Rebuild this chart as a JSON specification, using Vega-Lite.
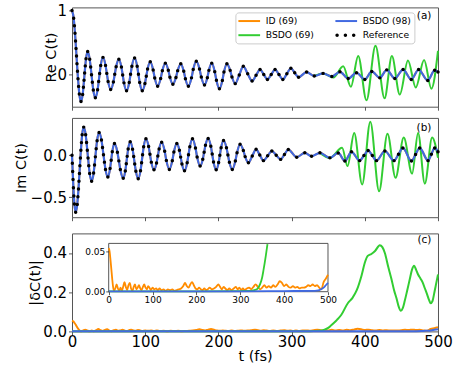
{
"$schema": "https://vega.github.io/schema/vega-lite/v6.json",
"padding": {"left": 12, "top": 2.4, "right": 5, "bottom": 5},
"config": {
 "font": "DejaVu Sans",
 "view": {"stroke": "#555", "strokeWidth": 1},
 "axis": {"grid": false, "domain": false, "labelFlush": false, "tickColor": "#333", "tickSize": 3.5, "tickWidth": 0.8, "labelFontSize": 15, "labelColor": "#000", "labelFont": "DejaVu Sans", "titleFont": "DejaVu Sans", "titleFontSize": 14.5, "titleFontWeight": "normal", "titleColor": "#000", "labelPadding": 2, "titlePadding": 4}
},
"datasets": {
 "re": [{"t":0,"v":1.0},{"t":2.29,"v":0.882},{"t":3.29,"v":0.763},{"t":4.10,"v":0.645},{"t":4.82,"v":0.527},{"t":5.49,"v":0.408},{"t":6.15,"v":0.29},{"t":6.81,"v":0.172},{"t":7.48,"v":0.053},{"t":8.20,"v":-0.065},{"t":9.01,"v":-0.183},{"t":10.01,"v":-0.302},{"t":12.3,"v":-0.42},
 {"t":14.55,"v":-0.309},{"t":15.57,"v":-0.197},{"t":16.43,"v":-0.086},{"t":17.27,"v":0.026},{"t":18.13,"v":0.137},{"t":19.15,"v":0.249},{"t":21.4,"v":0.36},
 {"t":24.21,"v":0.24},{"t":25.52,"v":0.12},{"t":26.65,"v":0.0},{"t":27.78,"v":-0.12},{"t":29.09,"v":-0.24},{"t":31.9,"v":-0.36},
 {"t":34.97,"v":-0.234},{"t":36.43,"v":-0.108},{"t":37.77,"v":0.018},{"t":39.23,"v":0.144},{"t":42.3,"v":0.27},
 {"t":45.8,"v":0.145},{"t":47.55,"v":0.02},{"t":49.3,"v":-0.105},{"t":52.8,"v":-0.23},
 {"t":56.53,"v":-0.113},{"t":58.4,"v":0.005},{"t":60.27,"v":0.123},{"t":64.0,"v":0.24},
 {"t":67.5,"v":0.118},{"t":69.25,"v":-0.005},{"t":71.0,"v":-0.128},{"t":74.5,"v":-0.25},
 {"t":78.17,"v":-0.123},{"t":80.0,"v":0.005},{"t":81.83,"v":0.133},{"t":85.5,"v":0.26},
 {"t":89.0,"v":0.133},{"t":90.75,"v":0.005},{"t":92.5,"v":-0.123},{"t":96.0,"v":-0.25},
 {"t":99.63,"v":-0.138},{"t":101.45,"v":-0.025},{"t":103.27,"v":0.088},{"t":106.9,"v":0.2},
 {"t":110.86,"v":0.073},{"t":113.04,"v":-0.053},{"t":117.0,"v":-0.18},
 {"t":121.12,"v":-0.06},{"t":123.38,"v":0.06},{"t":127.5,"v":0.18},
 {"t":131.54,"v":0.07},{"t":133.76,"v":-0.04},{"t":137.8,"v":-0.15},
 {"t":142.03,"v":-0.043},{"t":144.37,"v":0.063},{"t":148.6,"v":0.17},
 {"t":152.68,"v":0.053},{"t":154.92,"v":-0.063},{"t":159.0,"v":-0.18},
 {"t":163.23,"v":-0.05},{"t":165.57,"v":0.08},{"t":169.8,"v":0.21},
 {"t":174.19,"v":0.087},{"t":176.61,"v":-0.037},{"t":181.0,"v":-0.16},
 {"t":184.88,"v":-0.047},{"t":187.02,"v":0.067},{"t":190.9,"v":0.18},
 {"t":195.02,"v":0.047},{"t":197.28,"v":-0.087},{"t":201.4,"v":-0.22},
 {"t":205.4,"v":-0.09},{"t":207.6,"v":0.04},{"t":211.6,"v":0.17},
 {"t":216.07,"v":0.067},{"t":218.53,"v":-0.037},{"t":223.0,"v":-0.14},
 {"t":228.5,"v":-0.005},{"t":234.0,"v":0.13},
 {"t":240.0,"v":0.015},{"t":246.0,"v":-0.10},
 {"t":251.45,"v":-0.01},{"t":256.9,"v":0.08},
 {"t":261.95,"v":0.003},{"t":267.0,"v":-0.075},
 {"t":272.2,"v":0.003},{"t":277.4,"v":0.08},
 {"t":282.7,"v":0.003},{"t":288.0,"v":-0.075},
 {"t":293.5,"v":0.013},{"t":299.0,"v":0.10},
 {"t":304.25,"v":0.03},{"t":309.5,"v":-0.04},
 {"t":320.5,"v":0.04},{"t":331.0,"v":-0.02},{"t":343.0,"v":0.02},{"t":355.0,"v":-0.03},{"t":366.0,"v":0.045},{"t":377.3,"v":-0.06},{"t":388.7,"v":0.03},{"t":400.0,"v":-0.075},{"t":409.5,"v":0.05},{"t":420.5,"v":-0.05},{"t":430.0,"v":0.075},{"t":441.0,"v":-0.06},{"t":452.3,"v":0.08},{"t":463.5,"v":-0.075},{"t":473.5,"v":0.08},{"t":486.0,"v":-0.09},{"t":495.5,"v":0.07},{"t":500,"v":0.04}],
 "reG": [{"t":331,"v":-0.02},{"t":343,"v":0.02},{"t":357,"v":-0.045},{"t":370.5,"v":0.13},{"t":381,"v":-0.19},{"t":391,"v":0.29},{"t":402.3,"v":-0.40},{"t":414.6,"v":0.45},{"t":427,"v":-0.37},{"t":437,"v":0.29},{"t":447.8,"v":-0.31},{"t":459,"v":0.22},{"t":469.6,"v":-0.20},{"t":481,"v":0.23},{"t":491,"v":-0.22},{"t":500,"v":0.37}],
 "im": [{"t":0,"v":0},{"t":0.46,"v":-0.097},{"t":0.92,"v":-0.194},{"t":1.41,"v":-0.291},{"t":1.94,"v":-0.389},{"t":2.53,"v":-0.486},{"t":3.28,"v":-0.583},{"t":5.0,"v":-0.68},
 {"t":7.15,"v":-0.588},{"t":8.08,"v":-0.495},{"t":8.85,"v":-0.403},{"t":9.53,"v":-0.311},{"t":10.18,"v":-0.219},{"t":10.82,"v":-0.126},{"t":11.47,"v":-0.034},{"t":12.15,"v":0.058},{"t":12.92,"v":0.15},{"t":13.85,"v":0.243},{"t":16.0,"v":0.335},
 {"t":18.67,"v":0.243},{"t":19.88,"v":0.151},{"t":20.9,"v":0.059},{"t":21.9,"v":-0.034},{"t":22.92,"v":-0.126},{"t":24.13,"v":-0.218},{"t":26.8,"v":-0.31},
 {"t":29.53,"v":-0.213},{"t":30.8,"v":-0.117},{"t":31.9,"v":-0.02},{"t":33.0,"v":0.077},{"t":34.27,"v":0.173},{"t":37.0,"v":0.27},
 {"t":40.22,"v":0.182},{"t":41.7,"v":0.093},{"t":43.0,"v":0.005},{"t":44.3,"v":-0.083},{"t":45.78,"v":-0.172},{"t":49.0,"v":-0.26},
 {"t":52.0,"v":-0.16},{"t":53.5,"v":-0.06},{"t":55.0,"v":0.04},{"t":58.0,"v":0.14},
 {"t":62.0,"v":0.036},{"t":64.0,"v":-0.068},{"t":66.0,"v":-0.171},{"t":70.0,"v":-0.275},
 {"t":72.8,"v":-0.188},{"t":74.14,"v":-0.101},{"t":75.36,"v":-0.014},{"t":76.7,"v":0.073},{"t":79.5,"v":0.16},
 {"t":82.75,"v":0.072},{"t":84.3,"v":-0.016},{"t":85.7,"v":-0.104},{"t":87.26,"v":-0.192},{"t":90.5,"v":-0.28},
 {"t":93.6,"v":-0.185},{"t":95.08,"v":-0.09},{"t":96.42,"v":0.005},{"t":97.9,"v":0.1},{"t":101.0,"v":0.195},
 {"t":104.67,"v":0.103},{"t":106.5,"v":0.01},{"t":108.33,"v":-0.083},{"t":112.0,"v":-0.175},
 {"t":115.5,"v":-0.093},{"t":117.25,"v":-0.01},{"t":119.0,"v":0.073},{"t":122.5,"v":0.155},
 {"t":126.62,"v":0.047},{"t":128.88,"v":-0.062},{"t":133.0,"v":-0.17},
 {"t":137.0,"v":-0.067},{"t":139.2,"v":0.037},{"t":143.2,"v":0.14},
 {"t":146.7,"v":0.059},{"t":148.45,"v":-0.023},{"t":150.2,"v":-0.104},{"t":153.7,"v":-0.185},
 {"t":157.33,"v":-0.09},{"t":159.15,"v":0.005},{"t":160.97,"v":0.1},{"t":164.6,"v":0.195},
 {"t":168.68,"v":0.087},{"t":170.92,"v":-0.022},{"t":175.0,"v":-0.13},
 {"t":178.67,"v":-0.048},{"t":180.5,"v":0.035},{"t":182.33,"v":0.118},{"t":186.0,"v":0.2},
 {"t":189.67,"v":0.106},{"t":191.5,"v":0.013},{"t":193.33,"v":-0.081},{"t":197.0,"v":-0.175},
 {"t":200.33,"v":-0.088},{"t":202.0,"v":0.0},{"t":203.67,"v":0.088},{"t":207.0,"v":0.175},
 {"t":211.0,"v":0.089},{"t":213.0,"v":0.003},{"t":215.0,"v":-0.084},{"t":219.0,"v":-0.17},
 {"t":223.16,"v":-0.07},{"t":225.44,"v":0.03},{"t":229.6,"v":0.13},
 {"t":234.07,"v":0.057},{"t":236.53,"v":-0.017},{"t":241.0,"v":-0.09},
 {"t":246.25,"v":-0.01},{"t":251.5,"v":0.07},
 {"t":256.5,"v":0.003},{"t":261.5,"v":-0.065},
 {"t":267.25,"v":-0.008},{"t":273.0,"v":0.05},
 {"t":279.0,"v":0.0},{"t":285.0,"v":-0.05},
 {"t":290.25,"v":0.009},{"t":295.5,"v":0.067},
 {"t":307.0,"v":-0.024},{"t":318.0,"v":0.028},{"t":327.3,"v":-0.012},{"t":338.7,"v":0.028},{"t":352.3,"v":-0.032},{"t":363.7,"v":0.027},{"t":372.8,"v":-0.07},{"t":381.8,"v":0.04},{"t":393.0,"v":-0.065},{"t":398.8,"v":-0.005},{"t":404.6,"v":0.055},{"t":410.3,"v":-0.005},{"t":416.0,"v":-0.065},{"t":427.4,"v":0.05},{"t":440.0,"v":-0.065},{"t":446.0,"v":0.011},{"t":452.0,"v":0.087},{"t":463.7,"v":-0.07},{"t":469.35,"v":0.0085},{"t":475.0,"v":0.087},{"t":486.4,"v":-0.065},{"t":490.95,"v":0.011},{"t":495.5,"v":0.087},{"t":500,"v":0.04}],
 "imG": [{"t":338.7,"v":0.028},{"t":352.3,"v":-0.032},{"t":369,"v":0.09},{"t":376.4,"v":-0.13},{"t":385.5,"v":0.265},{"t":396.4,"v":-0.35},{"t":407.5,"v":0.40},{"t":419.5,"v":-0.43},{"t":431,"v":0.255},{"t":442,"v":-0.27},{"t":453.2,"v":0.21},{"t":464.6,"v":-0.22},{"t":472.8,"v":0.265},{"t":482,"v":-0.34},{"t":492,"v":0.21},{"t":500,"v":-0.03}],
 "dO": [{"t":0,"v":0.054},{"t":2,"v":0.05},{"t":4,"v":0.04},{"t":6,"v":0.028},{"t":8,"v":0.016},{"t":10,"v":0.006},{"t":12,"v":0.001},{"t":15,"v":0.004},{"t":18,"v":0.009},{"t":21,"v":0.004},{"t":24,"v":0.001},{"t":27,"v":0.005},{"t":30,"v":0.001},{"t":33,"v":0.006},{"t":36,"v":0.012},{"t":39,"v":0.006},{"t":42,"v":0.002},{"t":45,"v":0.008},{"t":48,"v":0.011},{"t":51,"v":0.004},{"t":54,"v":0.001},{"t":57,"v":0.006},{"t":60,"v":0.009},{"t":63,"v":0.003},{"t":66,"v":0.005},{"t":69,"v":0.008},{"t":72,"v":0.004},{"t":75,"v":0.002},{"t":78,"v":0.006},{"t":81,"v":0.009},{"t":84,"v":0.005},{"t":87,"v":0.003},{"t":90,"v":0.007},{"t":93,"v":0.005},{"t":96,"v":0.002},{"t":100,"v":0.005},{"t":104,"v":0.003},{"t":108,"v":0.004},{"t":112,"v":0.002},{"t":116,"v":0.004},{"t":120,"v":0.002},{"t":125,"v":0.003},{"t":130,"v":0.001},{"t":135,"v":0.003},{"t":140,"v":0.002},{"t":145,"v":0.003},{"t":150,"v":0.001},{"t":155,"v":0.002},{"t":160,"v":0.003},{"t":165,"v":0.004},{"t":170,"v":0.007},{"t":174,"v":0.011},{"t":178,"v":0.007},{"t":182,"v":0.005},{"t":186,"v":0.009},{"t":190,"v":0.012},{"t":194,"v":0.008},{"t":198,"v":0.004},{"t":202,"v":0.003},{"t":206,"v":0.005},{"t":210,"v":0.003},{"t":214,"v":0.002},{"t":218,"v":0.004},{"t":222,"v":0.002},{"t":226,"v":0.003},{"t":230,"v":0.005},{"t":235,"v":0.003},{"t":240,"v":0.004},{"t":245,"v":0.006},{"t":250,"v":0.009},{"t":254,"v":0.006},{"t":258,"v":0.003},{"t":262,"v":0.006},{"t":266,"v":0.004},{"t":270,"v":0.002},{"t":275,"v":0.004},{"t":280,"v":0.002},{"t":285,"v":0.004},{"t":290,"v":0.006},{"t":294,"v":0.003},{"t":298,"v":0.005},{"t":302,"v":0.002},{"t":306,"v":0.004},{"t":310,"v":0.002},{"t":315,"v":0.004},{"t":320,"v":0.005},{"t":325,"v":0.003},{"t":330,"v":0.006},{"t":335,"v":0.009},{"t":340,"v":0.006},{"t":345,"v":0.003},{"t":350,"v":0.005},{"t":355,"v":0.008},{"t":360,"v":0.005},{"t":365,"v":0.007},{"t":370,"v":0.005},{"t":375,"v":0.008},{"t":380,"v":0.006},{"t":385,"v":0.009},{"t":390,"v":0.013},{"t":395,"v":0.011},{"t":400,"v":0.007},{"t":405,"v":0.009},{"t":410,"v":0.006},{"t":415,"v":0.005},{"t":420,"v":0.007},{"t":425,"v":0.005},{"t":430,"v":0.006},{"t":435,"v":0.004},{"t":440,"v":0.005},{"t":445,"v":0.005},{"t":450,"v":0.006},{"t":455,"v":0.008},{"t":460,"v":0.007},{"t":465,"v":0.009},{"t":470,"v":0.007},{"t":475,"v":0.008},{"t":480,"v":0.005},{"t":485,"v":0.003},{"t":490,"v":0.012},{"t":495,"v":0.016},{"t":500,"v":0.021}],
 "dB": [{"t":0,"v":0.0005},{"t":100,"v":0.0005},{"t":200,"v":0.0005},{"t":300,"v":0.0005},{"t":400,"v":0.0008},{"t":470,"v":0.001},{"t":478,"v":0.0015},{"t":484,"v":0.003},{"t":490,"v":0.005},{"t":495,"v":0.008},{"t":500,"v":0.011}],
 "dG": [{"t":0,"v":0.0005},{"t":100,"v":0.0005},{"t":200,"v":0.0005},{"t":300,"v":0.0008},{"t":325,"v":0.001},{"t":332,"v":0.002},{"t":338,"v":0.003},{"t":345,"v":0.009},{"t":350,"v":0.018},{"t":353,"v":0.027},{"t":358,"v":0.044},{"t":362,"v":0.059},{"t":368,"v":0.085},{"t":377,"v":0.145},{"t":383,"v":0.17},{"t":389,"v":0.21},{"t":395.5,"v":0.284},{"t":400,"v":0.35},{"t":404,"v":0.385},{"t":409,"v":0.395},{"t":414,"v":0.41},{"t":420.5,"v":0.44},{"t":424,"v":0.43},{"t":427.4,"v":0.40},{"t":432,"v":0.33},{"t":436.4,"v":0.267},{"t":440,"v":0.21},{"t":443.2,"v":0.17},{"t":446,"v":0.13},{"t":449.2,"v":0.105},{"t":452,"v":0.12},{"t":454.6,"v":0.156},{"t":458,"v":0.21},{"t":461.5,"v":0.267},{"t":464.5,"v":0.315},{"t":467.3,"v":0.335},{"t":470,"v":0.315},{"t":472.8,"v":0.29},{"t":476,"v":0.27},{"t":479,"v":0.25},{"t":482,"v":0.22},{"t":485,"v":0.19},{"t":488,"v":0.158},{"t":490,"v":0.144},{"t":492.5,"v":0.155},{"t":494.6,"v":0.19},{"t":497,"v":0.235},{"t":500,"v":0.29}],
 "series": [{"s":"ID (69)"},{"s":"BSDO (69)"},{"s":"BSDO (98)"},{"s":"Reference"}]
},
"vconcat": [
 {
  "vconcat": [
   {
    "width": 366, "height": 99.3,
    "layer": [
     {"data": {"name": "re"}, "mark": {"type": "line", "color": "#ff8c00", "strokeWidth": 2, "interpolate": "monotone"},
      "encoding": {"x": {"field": "t", "type": "quantitative", "scale": {"domain": [0, 500], "nice": false}, "axis": {"values": [0,100,200,300,400,500], "labels": false, "title": null}},
                   "y": {"field": "v", "type": "quantitative", "scale": {"domain": [-0.5, 1.05], "nice": false, "zero": false}, "axis": {"values": [0, 1], "format": "d", "title": "Re C(t)", "titlePadding": -2}}}},
     {"data": {"name": "reG"}, "mark": {"type": "line", "color": "#32cd32", "strokeWidth": 2, "interpolate": "monotone"},
      "encoding": {"x": {"field": "t", "type": "quantitative"}, "y": {"field": "v", "type": "quantitative"}}},
     {"data": {"name": "re"}, "mark": {"type": "line", "color": "#4169e1", "strokeWidth": 2.2, "interpolate": "monotone"},
      "encoding": {"x": {"field": "t", "type": "quantitative"}, "y": {"field": "v", "type": "quantitative"}}},
     {"data": {"name": "re"}, "mark": {"type": "point", "filled": true, "color": "#000", "size": 12, "opacity": 1, "strokeWidth": 0},
      "encoding": {"x": {"field": "t", "type": "quantitative"}, "y": {"field": "v", "type": "quantitative"}}},
     {"data": {"name": "series"}, "transform": [{"filter": "false"}],
      "mark": {"type": "point", "filled": true, "opacity": 1, "strokeWidth": 0},
      "encoding": {
       "color": {"field": "s", "type": "nominal", "scale": {"domain": ["ID (69)", "BSDO (69)", "BSDO (98)", "Reference"], "range": ["#ff8c00", "#32cd32", "#4169e1", "#000000"]},
                 "legend": {"title": null, "orient": "none", "legendX": 163.4, "legendY": 5, "columns": 2, "columnPadding": 21, "rowPadding": 3.3, "padding": 3, "symbolSize": 121, "symbolStrokeWidth": 0, "symbolOpacity": 1, "labelFontSize": 9.2, "labelFont": "DejaVu Sans", "labelColor": "#000", "labelOffset": 16.4, "strokeColor": "#cccccc", "fillColor": "#ffffff", "cornerRadius": 3}},
       "shape": {"field": "s", "type": "nominal", "scale": {"domain": ["ID (69)", "BSDO (69)", "BSDO (98)", "Reference"], "range": ["M-1,-0.18L2.945,-0.18L2.945,0.18L-1,0.18Z", "M-1,-0.18L2.945,-0.18L2.945,0.18L-1,0.18Z", "M-1,-0.18L2.945,-0.18L2.945,0.18L-1,0.18Z", "M-1,0A0.31,0.31 0 1,0 -0.38,0A0.31,0.31 0 1,0 -1,0ZM0.51,0A0.31,0.31 0 1,0 1.13,0A0.31,0.31 0 1,0 0.51,0ZM2.02,0A0.31,0.31 0 1,0 2.64,0A0.31,0.31 0 1,0 2.02,0Z"]},
                 "legend": {"title": null, "orient": "none", "legendX": 163.4, "legendY": 5, "columns": 2, "columnPadding": 21, "rowPadding": 3.3, "padding": 3, "symbolSize": 121, "symbolStrokeWidth": 0, "symbolOpacity": 1, "labelFontSize": 9.2, "labelFont": "DejaVu Sans", "labelColor": "#000", "labelOffset": 16.4, "strokeColor": "#cccccc", "fillColor": "#ffffff", "cornerRadius": 3}}
      }},
     {"data": {"values": [{"label": "(a)"}]}, "mark": {"type": "text", "align": "right", "baseline": "middle", "fontSize": 10.5, "font": "DejaVu Sans", "color": "#000"},
      "encoding": {"x": {"datum": 491, "type": "quantitative"}, "y": {"datum": 0.914, "type": "quantitative"}, "text": {"field": "label"}}}
    ]
   },
   {
    "width": 366, "height": 99.3,
    "layer": [
     {"data": {"name": "im"}, "mark": {"type": "line", "color": "#ff8c00", "strokeWidth": 2, "interpolate": "monotone"},
      "encoding": {"x": {"field": "t", "type": "quantitative", "scale": {"domain": [0, 500], "nice": false}, "axis": {"values": [0,100,200,300,400,500], "labels": false, "title": null}},
                   "y": {"field": "v", "type": "quantitative", "scale": {"domain": [-0.74, 0.445], "nice": false, "zero": false}, "axis": {"values": [-0.5, 0], "format": ".1f", "title": "Im C(t)", "titlePadding": 2}}}},
     {"data": {"name": "imG"}, "mark": {"type": "line", "color": "#32cd32", "strokeWidth": 2, "interpolate": "monotone"},
      "encoding": {"x": {"field": "t", "type": "quantitative"}, "y": {"field": "v", "type": "quantitative"}}},
     {"data": {"name": "im"}, "mark": {"type": "line", "color": "#4169e1", "strokeWidth": 2.2, "interpolate": "monotone"},
      "encoding": {"x": {"field": "t", "type": "quantitative"}, "y": {"field": "v", "type": "quantitative"}}},
     {"data": {"name": "im"}, "mark": {"type": "point", "filled": true, "color": "#000", "size": 12, "opacity": 1, "strokeWidth": 0},
      "encoding": {"x": {"field": "t", "type": "quantitative"}, "y": {"field": "v", "type": "quantitative"}}},
     {"data": {"values": [{"label": "(b)"}]}, "mark": {"type": "text", "align": "right", "baseline": "middle", "fontSize": 10.5, "font": "DejaVu Sans", "color": "#000"},
      "encoding": {"x": {"datum": 491, "type": "quantitative"}, "y": {"datum": 0.33, "type": "quantitative"}, "text": {"field": "label"}}}
    ]
   }
  ],
  "spacing": 10.5,
  "bounds": "flush",
  "resolve": {"scale": {"color": "independent", "shape": "independent"}, "legend": {"color": "independent", "shape": "independent"}}
 },
 {
  "width": 366, "height": 98,
  "layer": [
   {
    "layer": [
     {"data": {"name": "dO"}, "mark": {"type": "line", "color": "#ff8c00", "strokeWidth": 2, "interpolate": "monotone"},
      "encoding": {"x": {"field": "t", "type": "quantitative", "scale": {"domain": [0, 500], "nice": false}, "axis": {"values": [0,100,200,300,400,500], "format": "d", "title": "t (fs)", "labelPadding": 0, "titlePadding": 0}},
                   "y": {"field": "v", "type": "quantitative", "scale": {"domain": [0, 0.5], "nice": false}, "axis": {"values": [0, 0.2, 0.4], "format": ".1f", "title": "|δC(t)|", "titlePadding": 0}}}},
     {"data": {"name": "dG"}, "mark": {"type": "line", "color": "#32cd32", "strokeWidth": 2, "interpolate": "monotone"},
      "encoding": {"x": {"field": "t", "type": "quantitative"}, "y": {"field": "v", "type": "quantitative"}}},
     {"data": {"name": "dB"}, "mark": {"type": "line", "color": "#4169e1", "strokeWidth": 2, "interpolate": "monotone"},
      "encoding": {"x": {"field": "t", "type": "quantitative"}, "y": {"field": "v", "type": "quantitative"}}},
     {"data": {"values": [{"label": "(c)"}]}, "mark": {"type": "text", "align": "right", "baseline": "middle", "fontSize": 10.5, "font": "DejaVu Sans", "color": "#000"},
      "encoding": {"x": {"datum": 491, "type": "quantitative"}, "y": {"datum": 0.468, "type": "quantitative"}, "text": {"field": "label"}}}
    ]
   },
   {
    "layer": [
     {"data": {"values": [{"label": "inset"}]}, "mark": {"type": "rect", "fill": "#ffffff", "stroke": "#555", "strokeWidth": 1},
      "encoding": {"x": {"datum": 0, "type": "quantitative", "scale": {"domain": [0, 500], "range": [36.7, 256], "nice": false}, "axis": {"orient": "bottom", "offset": -39.7, "values": [0,100,200,300,400,500], "format": "d", "title": null, "labelFontSize": 9, "tickSize": 3, "labelPadding": 1, "zindex": 2}},
                   "x2": {"datum": 500},
                   "y": {"datum": 0, "type": "quantitative", "scale": {"domain": [0, 0.06], "range": [58.3, 10], "nice": false, "zero": false}, "axis": {"orient": "left", "offset": -36.7, "values": [0, 0.05], "format": ".2f", "title": null, "labelFontSize": 9, "tickSize": 3, "labelPadding": 1, "zindex": 2}},
                   "y2": {"datum": 0.06}}},
     {"data": {"name": "dO"}, "mark": {"type": "line", "color": "#ff8c00", "strokeWidth": 1.8, "interpolate": "monotone"},
      "encoding": {"x": {"field": "t", "type": "quantitative"}, "y": {"field": "v", "type": "quantitative"}}},
     {"data": {"name": "dG"}, "transform": [{"filter": "datum.t <= 362"}], "mark": {"type": "line", "color": "#32cd32", "strokeWidth": 1.8, "interpolate": "monotone"},
      "encoding": {"x": {"field": "t", "type": "quantitative"}, "y": {"field": "v", "type": "quantitative"}}},
     {"data": {"name": "dB"}, "mark": {"type": "line", "color": "#4169e1", "strokeWidth": 1.8, "interpolate": "monotone"},
      "encoding": {"x": {"field": "t", "type": "quantitative"}, "y": {"field": "v", "type": "quantitative"}}}
    ]
   }
  ],
  "resolve": {"scale": {"x": "independent", "y": "independent"}, "axis": {"x": "independent", "y": "independent"}}
 }
],
"spacing": 10,
"resolve": {"scale": {"color": "independent", "shape": "independent"}, "legend": {"color": "independent", "shape": "independent"}}
}
